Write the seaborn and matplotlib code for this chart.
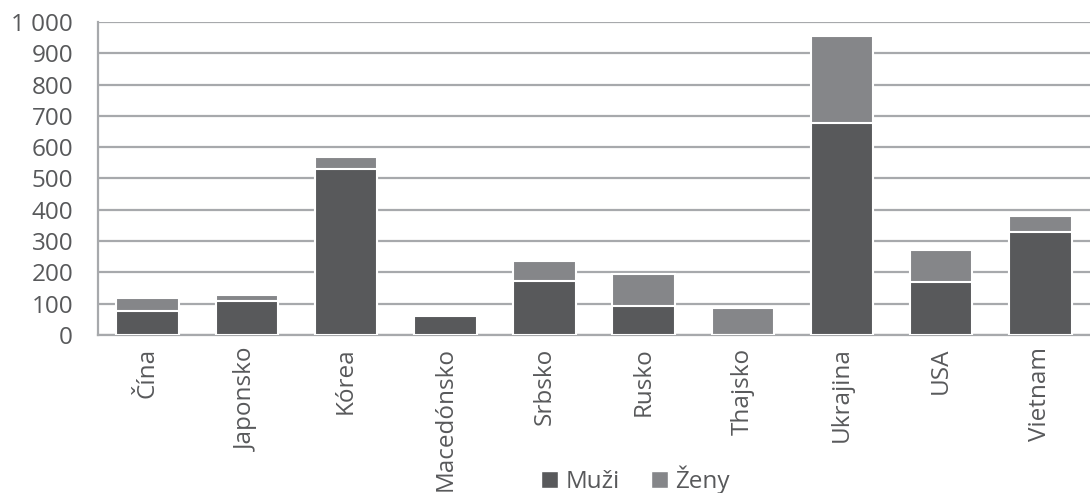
import matplotlib
matplotlib.use("Agg")
import matplotlib.pyplot as plt
from matplotlib.ticker import FuncFormatter, MultipleLocator
from matplotlib.patches import Patch
import seaborn as sns
import pandas as pd

countries = ["Čína", "Japonsko", "Kórea", "Macedónsko", "Srbsko",
             "Rusko", "Thajsko", "Ukrajina", "USA", "Vietnam"]
muzi = [77, 108, 529, 60, 174, 93, 0, 677, 169, 330]
zeny = [41, 20, 41, 0, 61, 102, 87, 279, 103, 49]

male_color = "#58595B"
female_color = "#858689"
grid_color = "#A7A9AC"
text_color = "#58595B"

sns.set_theme(style="white")
plt.rcParams["font.family"] = ["Open Sans", "DejaVu Sans"]

df = pd.DataFrame({"krajina": countries, "muzi": muzi, "zeny": zeny})
df["spolu"] = df["muzi"] + df["zeny"]

fig = plt.figure(figsize=(10.9, 4.93), dpi=100)
ax = fig.add_axes([0.09, 0.3205, 0.91, 0.635])

# stacked bars: full total in the lighter colour, men drawn over it
sns.barplot(data=df, x="krajina", y="spolu", color=female_color, width=0.63,
            saturation=1, edgecolor="white", linewidth=1.5, ax=ax, zorder=3)
sns.barplot(data=df, x="krajina", y="muzi", color=male_color, width=0.63,
            saturation=1, edgecolor="white", linewidth=1.5, ax=ax, zorder=4)

ax.set_ylim(0, 1000)
ax.set_xlim(-0.5, len(countries) - 0.5)
ax.yaxis.set_major_locator(MultipleLocator(100))
ax.yaxis.set_major_formatter(FuncFormatter(lambda v, _: f"{int(v):,}".replace(",", " ")))
ax.grid(axis="y", color=grid_color, linewidth=1.6, zorder=0)
ax.set_axisbelow(True)

for side in ["top", "right"]:
    ax.spines[side].set_visible(False)
for side in ["left", "bottom"]:
    ax.spines[side].set_color(grid_color)
    ax.spines[side].set_linewidth(1.6)

ax.set_xlabel("")
ax.set_ylabel("")
ax.tick_params(axis="y", length=0, pad=18, labelsize=17.5, labelcolor=text_color)
ax.tick_params(axis="x", length=0, pad=9, labelsize=17.5, labelcolor=text_color,
               labelrotation=90)

handles = [Patch(facecolor=male_color, label="Muži"),
           Patch(facecolor=female_color, label="Ženy")]
fig.legend(handles=handles, loc="center", bbox_to_anchor=(0.583, 0.027), ncol=2,
           frameon=False, fontsize=17.5, labelcolor=text_color,
           handlelength=0.7, handleheight=0.7, handletextpad=0.3, columnspacing=1.3)

fig.savefig("out.png", dpi=100)
